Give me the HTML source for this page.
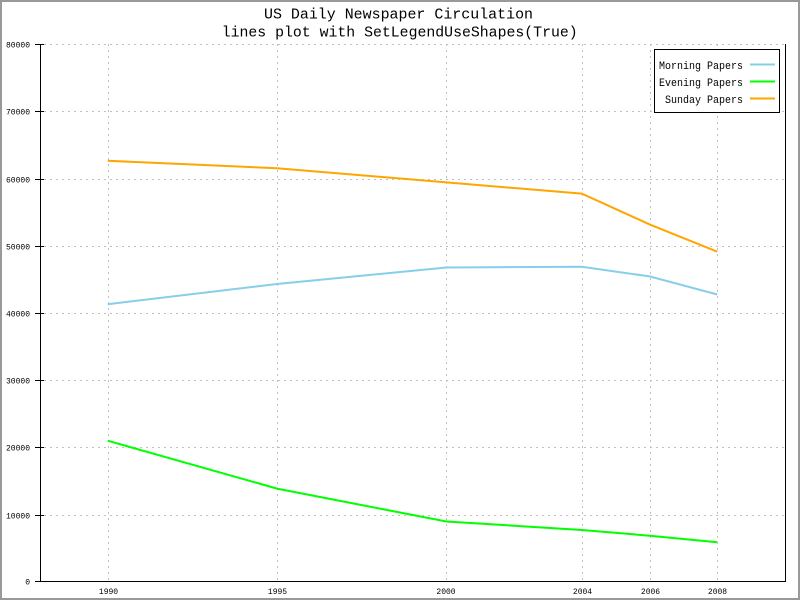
<!DOCTYPE html>
<html><head><meta charset="utf-8"><style>
html,body{margin:0;padding:0;background:#fff;}
svg{display:block;}
text{font-family:"Liberation Mono","DejaVu Sans Mono",monospace;fill:#000;}
</style></head><body>
<svg width="800" height="600" viewBox="0 0 800 600" xmlns="http://www.w3.org/2000/svg">
<rect x="0" y="0" width="800" height="600" fill="#fff"/>
<rect x="1" y="1" width="798" height="598" fill="none" stroke="#999" stroke-width="2"/>
<!-- title -->
<text x="398.5" y="18.5" font-size="15" text-anchor="middle" textLength="269" lengthAdjust="spacingAndGlyphs">US Daily Newspaper Circulation</text>
<text x="399.7" y="36.7" font-size="15" text-anchor="middle" textLength="356" lengthAdjust="spacingAndGlyphs">lines plot with SetLegendUseShapes(True)</text>
<!-- grid -->
<g stroke="#c0c0c0" stroke-width="1" stroke-dasharray="2,4" shape-rendering="crispEdges" fill="none">
<line x1="44" y1="44.5" x2="785" y2="44.5"/>
<line x1="44" y1="111.5" x2="785" y2="111.5"/>
<line x1="44" y1="179.5" x2="785" y2="179.5"/>
<line x1="44" y1="246.5" x2="785" y2="246.5"/>
<line x1="44" y1="313.5" x2="785" y2="313.5"/>
<line x1="44" y1="380.5" x2="785" y2="380.5"/>
<line x1="44" y1="447.5" x2="785" y2="447.5"/>
<line x1="44" y1="515.5" x2="785" y2="515.5"/>
<line x1="108.5" y1="44" x2="108.5" y2="582"/>
<line x1="277.5" y1="44" x2="277.5" y2="582"/>
<line x1="446.5" y1="44" x2="446.5" y2="582"/>
<line x1="582.5" y1="44" x2="582.5" y2="582"/>
<line x1="650.5" y1="44" x2="650.5" y2="582"/>
<line x1="717.5" y1="44" x2="717.5" y2="582"/>
</g>
<!-- axes -->
<g stroke="#000" stroke-width="1" shape-rendering="crispEdges" fill="none">
<line x1="40.5" y1="44" x2="40.5" y2="582"/>
<line x1="40" y1="581.5" x2="786" y2="581.5"/>
<line x1="785.5" y1="44" x2="785.5" y2="582"/>
<line x1="35" y1="44.5" x2="44" y2="44.5"/>
<line x1="35" y1="111.5" x2="44" y2="111.5"/>
<line x1="35" y1="179.5" x2="44" y2="179.5"/>
<line x1="35" y1="246.5" x2="44" y2="246.5"/>
<line x1="35" y1="313.5" x2="44" y2="313.5"/>
<line x1="35" y1="380.5" x2="44" y2="380.5"/>
<line x1="35" y1="447.5" x2="44" y2="447.5"/>
<line x1="35" y1="515.5" x2="44" y2="515.5"/>
<line x1="35" y1="581.5" x2="40" y2="581.5"/>
</g>
<!-- y labels -->
<g font-size="8" text-anchor="end">
<text x="30" y="47.5">80000</text>
<text x="30" y="114.5">70000</text>
<text x="30" y="182.5">60000</text>
<text x="30" y="249.5">50000</text>
<text x="30" y="316.5">40000</text>
<text x="30" y="383.5">30000</text>
<text x="30" y="450.5">20000</text>
<text x="30" y="518.5">10000</text>
<text x="30" y="584.5">0</text>
</g>
<!-- x labels -->
<g font-size="8" text-anchor="middle">
<text x="108.5" y="594">1990</text>
<text x="277.5" y="594">1995</text>
<text x="446" y="594">2000</text>
<text x="582.5" y="594">2004</text>
<text x="650.5" y="594">2006</text>
<text x="717.5" y="594">2008</text>
</g>
<!-- series -->
<g fill="none" stroke-width="2" stroke-linejoin="miter">
<polyline stroke="#87ceeb" points="107.7,304.2 277,284 446.4,267.5 581.8,266.7 649.6,276.4 717.3,294.5"/>
<polyline stroke="#00ff00" points="107.7,440.7 277,488.6 446.4,521.5 581.8,530 649.6,535.7 717.3,542.3"/>
<polyline stroke="#ffa500" points="107.7,160.8 277,168.2 446.4,182.4 581.8,193.6 649.6,224.4 717.3,251.7"/>
</g>
<!-- legend -->
<rect x="654.5" y="49.5" width="125" height="63" fill="#fff" stroke="#000" stroke-width="1" shape-rendering="crispEdges"/>
<g font-size="11" text-anchor="end">
<text x="743" y="69" textLength="84" lengthAdjust="spacingAndGlyphs">Morning Papers</text>
<text x="743" y="86" textLength="84" lengthAdjust="spacingAndGlyphs">Evening Papers</text>
<text x="743" y="103" textLength="78" lengthAdjust="spacingAndGlyphs">Sunday Papers</text>
</g>
<g stroke-width="2" shape-rendering="crispEdges">
<line x1="750" y1="64.5" x2="775" y2="64.5" stroke="#87ceeb"/>
<line x1="750" y1="81.5" x2="775" y2="81.5" stroke="#00ff00"/>
<line x1="750" y1="98.5" x2="775" y2="98.5" stroke="#ffa500"/>
</g>
</svg>
</body></html>
